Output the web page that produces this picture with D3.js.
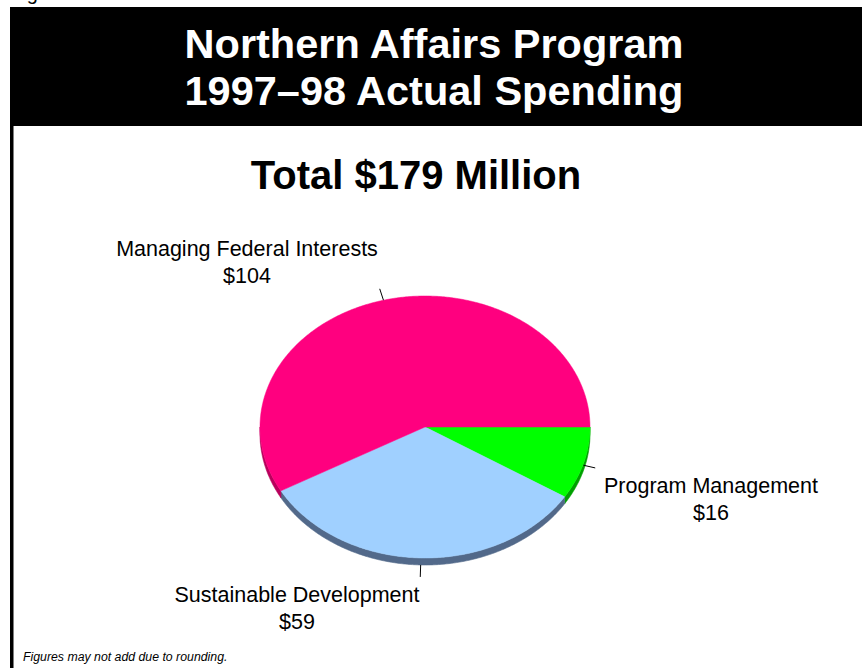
<!DOCTYPE html>
<html>
<head>
<meta charset="utf-8">
<script src="https://cdn.jsdelivr.net/npm/d3@7"></script>
<style>
  html, body { margin: 0; padding: 0; background: #fff; }
  svg { display: block; }
  text { font-family: "Liberation Sans", Arial, sans-serif; }
</style>
</head>
<body>
<svg id="chart" width="862" height="668"></svg>
<script>
// ---- data ----
const categories = ["Program Management", "Sustainable Development", "Managing Federal Interests"];
const values = [16, 59, 104];
const valueLabels = ["$16", "$59", "$104"];
const titleLines = ["Northern Affairs Program", "1997\u201398 Actual Spending"];
const subtitle = "Total $179 Million";
const footnote = "Figures may not add due to rounding.";

// ---- styles / layout ----
const topColors = ["#00FF00", "#A0D0FF", "#FF007F"];
const sideColors = ["#00A000", "#52698A", "#B8005C"];
const labelLayout = [
  { x: 711, y: 493 },
  { x: 297, y: 602 },
  { x: 247, y: 256 }
];

const W = 862, H = 668;
const svg = d3.select("#chart");

// top-left cut text (only its descender shows, as in the reference)
svg.append("text").attr("x", 10).attr("y", 0).attr("font-size", 20).attr("fill", "#000").text("Figure");

// left border
svg.append("rect").attr("x", 10).attr("y", 7).attr("width", 3.5).attr("height", H - 7).attr("fill", "#000");
// banner
svg.append("rect").attr("x", 10).attr("y", 7).attr("width", W - 10).attr("height", 119).attr("fill", "#000");

svg.selectAll("text.title").data(titleLines).join("text")
  .attr("class", "title")
  .attr("x", 434).attr("y", (d, i) => 58 + i * 47)
  .attr("text-anchor", "middle")
  .attr("font-size", 41.5).attr("font-weight", "bold").attr("fill", "#fff")
  .text(d => d);

svg.append("text").attr("x", 416).attr("y", 189)
  .attr("text-anchor", "middle").attr("font-size", 40).attr("font-weight", "bold").attr("fill", "#000")
  .text(subtitle);

// ---- pie ----
const cx = 425, cy = 427, rx = 165, ry = 131, depth = 7;
const pie = d3.pie().sort(null).startAngle(Math.PI / 2).endAngle(Math.PI / 2 + 2 * Math.PI);
const arcs = pie(values);

const px = a => cx + rx * Math.sin(a);
const py = a => cy - ry * Math.cos(a);

function arcPoints(a0, a1, dy) {
  const n = Math.max(2, Math.ceil(Math.abs(a1 - a0) / 0.01));
  const pts = [];
  for (let i = 0; i <= n; i++) {
    const a = a0 + (a1 - a0) * i / n;
    pts.push([px(a), py(a) + dy]);
  }
  return pts;
}

const line = d3.line();
const g = svg.append("g");

// side walls on the front half
arcs.forEach((d, i) => {
  const ranges = [[Math.PI / 2, 3 * Math.PI / 2], [5 * Math.PI / 2, 7 * Math.PI / 2]];
  ranges.forEach(([f0, f1]) => {
    const a0 = Math.max(d.startAngle, f0), a1 = Math.min(d.endAngle, f1);
    if (a1 > a0) {
      const top = arcPoints(a0, a1, 0);
      const bot = arcPoints(a1, a0, depth);
      g.append("path").attr("d", line(top.concat(bot)) + "Z")
        .attr("fill", sideColors[i]).attr("stroke", sideColors[i]).attr("stroke-width", 0.6);
    }
  });
});

// top faces
arcs.forEach((d, i) => {
  const pts = [[cx, cy]].concat(arcPoints(d.startAngle, d.endAngle, 0));
  g.append("path").attr("d", line(pts) + "Z")
    .attr("fill", topColors[i]).attr("stroke", topColors[i]).attr("stroke-width", 0.5);
});

// leader lines and labels
arcs.forEach((d, i) => {
  const m = (d.startAngle + d.endAngle) / 2;
  const front = -Math.cos(m) > 0;
  const x0 = px(m), y0 = py(m) + (front ? depth * Math.max(0, -Math.cos(m)) : 0);
  const ux = Math.sin(m) * rx, uy = -Math.cos(m) * ry;
  const len = Math.hypot(ux, uy);
  const L = 12;
  g.append("line")
    .attr("x1", x0).attr("y1", y0)
    .attr("x2", x0 + ux / len * L).attr("y2", y0 + uy / len * L)
    .attr("stroke", "#000").attr("stroke-width", 1);

  const t = svg.append("text").attr("text-anchor", "middle").attr("font-size", 21.5).attr("fill", "#000");
  t.append("tspan").attr("x", labelLayout[i].x).attr("y", labelLayout[i].y).text(categories[i]);
  t.append("tspan").attr("x", labelLayout[i].x).attr("y", labelLayout[i].y + 26.5).text(valueLabels[i]);
});

svg.append("text").attr("x", 23).attr("y", 661)
  .attr("font-size", 12.3).attr("font-style", "italic").attr("fill", "#000")
  .text(footnote);
</script>
</body>
</html>
